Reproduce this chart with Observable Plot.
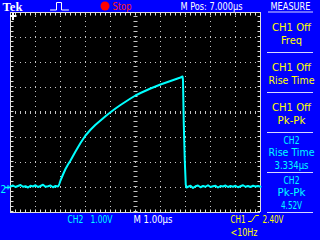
<!DOCTYPE html>
<html><head><meta charset="utf-8">
<script src="https://cdn.jsdelivr.net/npm/d3@7"></script>
<script src="https://cdn.jsdelivr.net/npm/@observablehq/plot@0.6"></script>
<style>
html,body{margin:0;padding:0;background:#0000ff;overflow:hidden}
#chart svg{display:block}
</style></head><body><div id="chart"></div>
<script>
// ---- CH2 trace (time in µs relative to trigger, voltage in V) ----
const traceTime = [
  2.0,2.1,2.2,2.3,2.4,2.5,2.6,2.7,2.8,2.9,3.0,3.1,3.2,3.3,3.4,3.5,3.6,3.7,3.8,3.9,
  3.93,3.96,4.0,4.1,4.2,4.3,4.4,4.6,4.8,5.0,5.2,5.4,5.6,5.8,6.0,6.2,6.4,6.6,6.8,7.0,
  7.2,7.4,7.6,7.8,8.0,8.2,8.4,8.6,8.8,8.88,
  8.90,8.93,8.97,9.01,9.04,
  9.1,9.2,9.3,9.4,9.5,9.6,9.7,9.8,9.9,10.0,10.1,10.2,10.3,10.4,10.5,10.6,10.7,10.8,10.9,
  11.0,11.1,11.2,11.3,11.4,11.5,11.6,11.7,11.8,11.9,12.0
];
const traceVolt = [
  0.04,0.08,0.02,0.06,0.10,0.03,0.05,0.00,0.07,0.04,0.09,0.02,0.06,0.11,0.03,0.05,0.08,0.01,0.06,0.04,
  0.08,0.16,0.28,0.52,0.74,0.92,1.08,1.44,1.78,2.08,2.31,2.51,2.68,2.85,3.01,3.16,3.30,3.43,3.56,3.68,
  3.78,3.87,3.96,4.04,4.12,4.19,4.26,4.33,4.40,4.44,
  4.30,2.60,1.10,0.12,0.00,
  0.03,0.07,-0.02,0.05,0.08,0.01,0.06,0.03,0.09,0.02,0.05,0.07,0.00,0.06,0.04,0.08,0.02,0.06,0.03,
  0.07,0.01,0.05,0.09,0.03,0.06,0.02,0.07,0.04,0.06,0.03
];

// ---- scales / graticule ----
const timeDomain = [2, 12];        // M Pos 7.000µs at centre, 1.00µs/div
const voltDomain = [-1, 7];        // CH2 1.00V/div, ground 3 div below centre
const timeGrid = [3, 4, 5, 6, 8, 9, 10, 11];
const voltGrid = [0, 1, 2, 4, 5, 6];
const timeCentre = [7];
const voltCentre = [3];
const groundLevel = [0];

// ---- texts ----
const brand = "Tek";
const runState = "Stop";
const horizPos = "M Pos: 7.000µs";
const menuTitle = "MEASURE";
const measureSource = ["CH1 Off", "CH1 Off", "CH1 Off", "CH2", "CH2"];
const measureType = ["Freq", "Rise Time", "Pk-Pk", "Rise Time", "Pk-Pk"];
const measureValue = ["", "", "", "3.334µs", "4.52V"];
const ch2Label = "CH2";
const ch2Scale = "1.00V";
const timeScale = "M 1.00µs";
const trigSource = "CH1";
const trigLevel = "2.40V";
const trigFreq = "<10Hz";
const groundMark = "2";

// ---- layout (pixels) ----
const L = 10, R = 260, T = 12, B = 212;
const X = px => timeDomain[0] + (px - L) / (R - L) * (timeDomain[1] - timeDomain[0]);
const Y = py => voltDomain[1] - (py - T) / (B - T) * (voltDomain[1] - voltDomain[0]);

const YELLOW = "#ffff00", CYAN = "#00ffff", WHITE = "#ffffff", GRID = "#c4c4c4";
const FONT = "'DejaVu Sans Condensed', 'DejaVu Sans', sans-serif";

const textWidths = {
  "Tek": 20, "Stop": 19, "M Pos: 7.000µs": 62, "MEASURE": 40,
  "CH1 Off": 39, "Freq": 21, "Rise Time": 46, "Pk-Pk": 28, "CH2": 16,
  "3.334µs": 34, "4.52V": 21, "1.00V": 22, "M 1.00µs": 39, "CH1": 15,
  "2.40V": 21, "<10Hz": 27
};

const trace = traceTime.map((t, i) => ({t, v: traceVolt[i]}));

function label(text, px, py, fill, opts = {}) {
  return Plot.text([text], {x: X(px), y: Y(py), text: d => d, fill,
    textAnchor: "start", lineAnchor: "bottom", fontSize: 11, fontFamily: FONT, ...opts});
}

// right panel boxes
const boxTops = [12, 52, 92, 132, 172];
const panelTexts = [];
measureSource.forEach((src, i) => {
  const lines = [src, measureType[i], measureValue[i]].filter(s => s);
  const offs = lines.length === 2 ? [18.5, 31] : [11.5, 23.5, 36];
  const fill = src.startsWith("CH2") ? CYAN : YELLOW;
  lines.forEach((s, j) => panelTexts.push({s, px: 291, py: boxTops[i] + offs[j], fill}));
});
const sepYs = [52, 92, 132, 172, 212];

const svg = Plot.plot({
  width: 320, height: 240,
  marginTop: 0, marginRight: 0, marginBottom: 0, marginLeft: 0,
  x: {domain: timeDomain, range: [L, R], axis: null},
  y: {domain: voltDomain, range: [B, T], axis: null},
  style: {background: "#0000ff", fontFamily: FONT},
  marks: [
    // screen
    Plot.rect([0], {x1: timeDomain[0], x2: timeDomain[1], y1: voltDomain[0], y2: voltDomain[1], fill: "black"}),
    // dotted grid
    Plot.ruleX(timeGrid, {y1: voltDomain[0], y2: voltDomain[1], stroke: GRID, strokeDasharray: "1,4"}),
    Plot.ruleY(voltGrid, {x1: timeDomain[0], x2: timeDomain[1], stroke: GRID, strokeDasharray: "1,4"}),
    // centre tick lines
    Plot.ruleX(timeCentre, {y1: voltDomain[0], y2: voltDomain[1], stroke: GRID, strokeWidth: 4, strokeDasharray: "1,4"}),
    Plot.ruleY(voltCentre, {x1: timeDomain[0], x2: timeDomain[1], stroke: GRID, strokeWidth: 3, strokeDasharray: "1,4"}),
    // border with ticks
    Plot.ruleX([timeDomain[0], timeDomain[1]], {y1: voltDomain[0], y2: voltDomain[1], stroke: "#e0e0e0"}),
    Plot.ruleY([voltDomain[0], voltDomain[1]], {x1: timeDomain[0], x2: timeDomain[1], stroke: "#e0e0e0"}),
    Plot.ruleX([timeDomain[0]], {y1: voltDomain[0], y2: voltDomain[1], dx: 1.5, strokeWidth: 3, stroke: "#e0e0e0", strokeDasharray: "1,4"}),
    Plot.ruleX([timeDomain[1]], {y1: voltDomain[0], y2: voltDomain[1], dx: -1.5, strokeWidth: 3, stroke: "#e0e0e0", strokeDasharray: "1,4"}),
    Plot.ruleY([voltDomain[1]], {x1: timeDomain[0], x2: timeDomain[1], dy: 1.5, strokeWidth: 3, stroke: "#e0e0e0", strokeDasharray: "1,4"}),
    Plot.ruleY([voltDomain[0]], {x1: timeDomain[0], x2: timeDomain[1], dy: -1.5, strokeWidth: 3, stroke: "#e0e0e0", strokeDasharray: "1,4"}),
    // trigger position marker
    Plot.ruleX([X(12.5)], {y1: Y(13), y2: Y(20), stroke: WHITE, strokeWidth: 2}),
    Plot.ruleY([Y(15.5)], {x1: X(10), x2: X(16.5), stroke: WHITE, strokeWidth: 2}),
    // trace
    Plot.line(trace, {x: "t", y: "v", stroke: CYAN, strokeWidth: 2, strokeLinejoin: "round"}),
    // ground marker
    Plot.ruleY(groundLevel, {x1: X(5), x2: X(10), stroke: CYAN, strokeWidth: 1.5}),
    Plot.ruleX([X(7.5)], {y1: Y(185), y2: Y(189.5), stroke: CYAN}),
    label(groundMark, 0, 192, CYAN, {fontSize: 10}),
    // header
    label(brand, 2, 10.5, WHITE, {fontFamily: "'Liberation Serif', serif", fontWeight: "bold", fontSize: 12}),
    Plot.line([[50, 9.5], [56, 9.5], [56, 2], [61, 2], [61, 9.5], [68, 9.5]].map(([a, b]) => ({a: X(a), b: Y(b)})),
      {x: "a", y: "b", stroke: WHITE, strokeWidth: 1}),
    Plot.dot([0], {x: X(104.5), y: Y(5.5), r: 4.5, fill: "#ff0000"}),
    label(runState, 112, 9.5, "#ff2020"),
    label(horizPos, 180, 9.5, WHITE),
    label(menuTitle, 270, 9.5, WHITE),
    Plot.ruleY([Y(11.5)], {x1: X(268), x2: X(313), stroke: "#d8d8ff"}),
    // measurement panel
    Plot.text(panelTexts, {x: d => X(d.px), y: d => Y(d.py), text: "s", fill: "fill",
      textAnchor: "middle", lineAnchor: "bottom", fontSize: 11, fontFamily: FONT}),
    Plot.ruleY(sepYs.map(Y), {x1: X(267), x2: X(313), stroke: "#d8d8ff"}),
    // bottom status
    label(ch2Label, 67, 222, CYAN),
    label(ch2Scale, 90, 222, CYAN),
    label(timeScale, 133, 222, WHITE),
    label(trigSource, 230, 222, YELLOW),
    Plot.line([[248, 221], [251, 221], [255, 215], [258, 215]].map(([a, b]) => ({a: X(a), b: Y(b)})),
      {x: "a", y: "b", stroke: YELLOW, strokeWidth: 1}),
    label(trigLevel, 262, 222, YELLOW),
    label(trigFreq, 230, 235, YELLOW)
  ]
});

d3.select(svg).selectAll("text").each(function () {
  const w = textWidths[this.textContent];
  if (w) { this.setAttribute("textLength", w); this.setAttribute("lengthAdjust", "spacingAndGlyphs"); }
});
document.getElementById("chart").appendChild(svg);
</script>
</body></html>
